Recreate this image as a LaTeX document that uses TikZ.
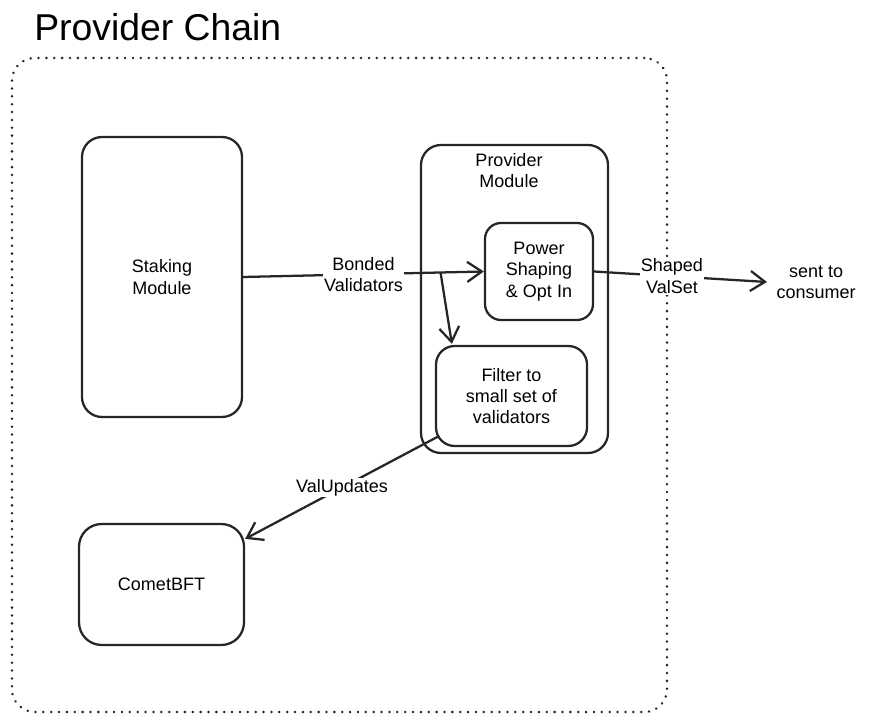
\documentclass[tikz,border=0pt]{standalone}
\usepackage{fontspec}
\setmainfont{Liberation Sans}
\usetikzlibrary{arrows.meta,calc}
\begin{document}
\begin{tikzpicture}[x=0.75pt,y=-0.75pt,
  box/.style={draw=black!85, line width=1.7pt, rounded corners=15pt, align=center, inner sep=0pt, font=\fontsize{13.5}{16}\selectfont},
  lbl/.style={align=center, font=\fontsize{13.5}{16}\selectfont, inner sep=1pt},
  arr/.style={draw=black!85, line width=1.7pt, -{Straight Barb[length=11pt,width=15pt,line width=1.7pt]}},
  ln/.style={draw=black!85, line width=1.7pt}]
\useasboundingbox (0,0) rectangle (874,723);
\node[anchor=base west, font=\fontsize{28}{32}\selectfont, inner sep=0pt] (title) at (34,41) {Provider Chain};
\node[draw=black!85, line width=2pt, dash pattern=on 0.1pt off 5.8pt, line cap=round, rounded corners=17pt, minimum width=491.25pt, minimum height=490.5pt, inner sep=0pt] (outer) at (339.5,385) {};
\node[box, minimum width=120pt, minimum height=210pt] (staking) at (162,277) {Staking\\Module};
\node[box, minimum width=140.25pt, minimum height=231pt] (provider) at (514.5,299) {};
\node[lbl, anchor=north] (provlbl) at (509,152) {Provider\\Module};
\node[box, rounded corners=12pt, minimum width=81pt, minimum height=72.75pt] (power) at (539,271.5) {Power\\Shaping\\\& Opt In};
\node[box, rounded corners=14pt, minimum width=113.25pt, minimum height=75pt] (filter) at (511.5,396) {Filter to\\small set of\\validators};
\node[box, rounded corners=17pt, minimum width=123.75pt, minimum height=90.75pt] (comet) at (161.5,584.5) {CometBFT};
\node[lbl, anchor=west] (consumer) at (775,282) {sent to\\consumer};
\draw[arr] (staking.east) -- coordinate[pos=0.82] (br) (power.west);
\node[lbl, fill=white] (bonded) at ($(staking.east)!0.5!(power.west)$) {Bonded\\Validators};
\draw[arr] (br) -- ([shift={(17,-1)}]filter.north west);
\draw[arr] (power.east) -- ([xshift=-6pt]consumer.west) node[lbl, pos=0.45, fill=white] (shaped) {Shaped\\ValSet};
\draw[arr] ([shift={(4,-11)}]filter.south west) -- ([shift={(0,16)}]comet.north east) node[lbl, pos=0.5, fill=white] (valupd) {ValUpdates};
\end{tikzpicture}
\end{document}
